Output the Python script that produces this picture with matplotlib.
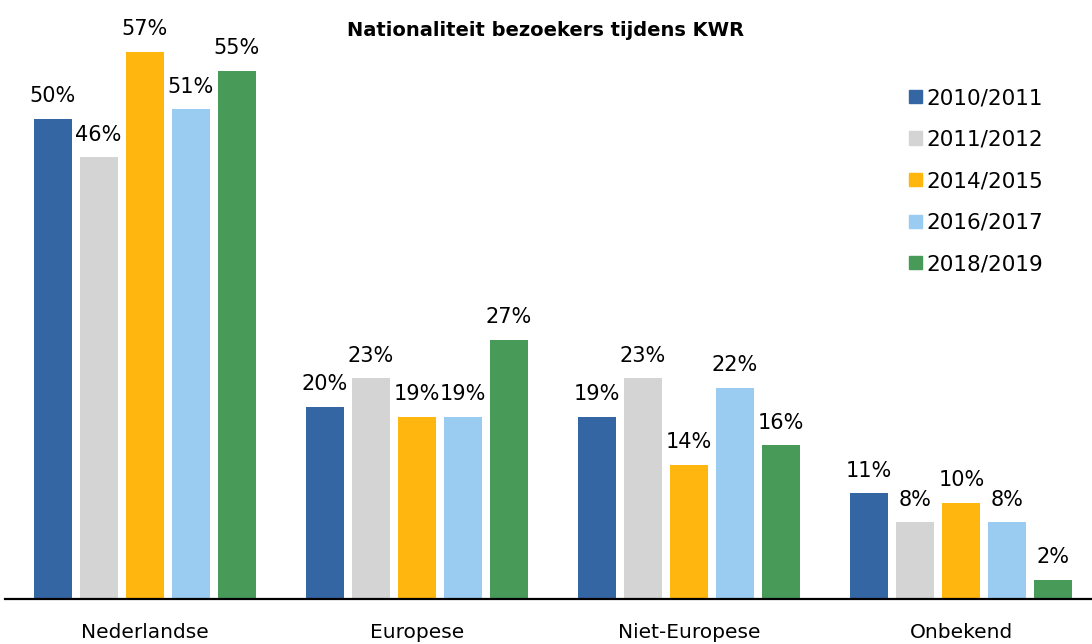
import matplotlib.pyplot as plt
import numpy as np
from matplotlib.patches import Patch

categories = ["Nederlandse", "Europese", "Niet-Europese", "Onbekend"]
seasons = ["2010/2011", "2011/2012", "2014/2015", "2016/2017", "2018/2019"]
v2010 = [50, 20, 19, 11]
v2011 = [46, 23, 23, 8]
v2014 = [57, 19, 14, 10]
v2016 = [51, 19, 22, 8]
v2018 = [55, 27, 16, 2]
colors = ["#3566A4", "#D4D4D4", "#FFB70F", "#9ACBF0", "#479A58"]

series = [v2010, v2011, v2014, v2016, v2018]

plt.rcParams['font.family'] = ['DejaVu Sans']

fig = plt.figure(figsize=(10.92, 6.44), dpi=100)
ax = fig.add_axes([0.005, 45 / 644, 0.995, 599 / 644])

x = np.arange(len(categories))
width = 0.14
step = 0.169

for i, (vals, col) in enumerate(zip(series, colors)):
    pos = x + (i - 2) * step
    bars = ax.bar(pos, vals, width=width, color=col, label=seasons[i])
    for b, v in zip(bars, vals):
        ax.annotate(f"{v}%", (b.get_x() + b.get_width() / 2, v),
                    xytext=(0, 12), textcoords="offset points",
                    ha="center", va="baseline", fontsize=15)

ax.set_xlim(-0.5 - 3 / 272, 3.48)
ax.set_ylim(0, 62.4)
ax.set_xticks(x)
ax.set_xticklabels(categories, fontsize=14.5)
ax.tick_params(axis="x", length=0, pad=17)
ax.set_yticks([])
for s in ["top", "right", "left"]:
    ax.spines[s].set_visible(False)
ax.spines["bottom"].set_linewidth(1.6)

fig.text(0.5, 0.953, "Nationaliteit bezoekers tijdens KWR", ha="center",
         va="center", fontsize=14, fontweight="bold")

handles = [Patch(color=c) for c in colors]
ax.legend(handles, seasons, loc="upper left", bbox_to_anchor=(0.814, 0.885),
          frameon=False, fontsize=15.5, handlelength=0.58, handleheight=0.58,
          handletextpad=0.2, labelspacing=1.0)

fig.savefig("out.png", dpi=100)
